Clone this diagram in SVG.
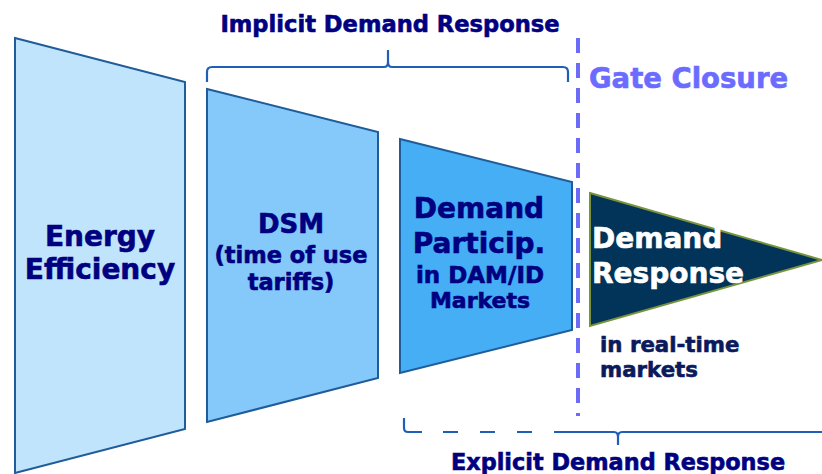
<svg xmlns="http://www.w3.org/2000/svg" width="822" height="474" viewBox="0 0 822 474">
<style>
.t{font-family:"DejaVu Sans","Noto Sans",sans-serif;font-weight:bold;fill:#000080;stroke:#000080;stroke-width:0.6;text-anchor:middle}
.w{font-family:"DejaVu Sans","Noto Sans",sans-serif;font-weight:bold;stroke-width:0.6}
.br{fill:none;stroke:#1F5FB5;stroke-width:2.2}
.trap{stroke:#1F5C99;stroke-width:2}
</style>
<rect width="822" height="474" fill="#fff"/>
<g id="energy-efficiency">
<polygon class="trap" points="15,38 185,82 185,429 15,473" fill="#C0E4FC"/>
<text class="t" x="100" y="246" font-size="28">Energy</text>
<text class="t" x="100" y="279" font-size="28">Efficiency</text>
</g>
<g id="dsm">
<polygon class="trap" points="207,89 378,132 378,378 207,422" fill="#85C8FA"/>
<text class="t" x="291" y="233" font-size="26">DSM</text>
<text class="t" x="291" y="263" font-size="22.5">(time of use</text>
<text class="t" x="291" y="290" font-size="22.5">tariffs)</text>
</g>
<g id="demand-particip">
<polygon class="trap" points="400,139 572,182 572,330 400,373" fill="#45AEF5"/>
<text class="t" x="479" y="218" font-size="28">Demand</text>
<text class="t" x="479" y="253" font-size="28">Particip.</text>
<text class="t" x="480" y="283" font-size="23">in DAM/ID</text>
<text class="t" x="480" y="308" font-size="22">Markets</text>
</g>
<g id="demand-response">
<polygon points="590,193 822,260 590,326" fill="#023459" stroke="#77933C" stroke-width="2"/>
<text class="w" x="592" y="248" font-size="28" fill="#fff" stroke="#fff">Demand</text>
<text class="w" x="592" y="283" font-size="28" fill="#fff" stroke="#fff">Response</text>
<text class="w" x="600" y="352" font-size="21.3" fill="#0A1A5C" stroke="#0A1A5C">in real-time</text>
<text class="w" x="600" y="377" font-size="21.3" fill="#0A1A5C" stroke="#0A1A5C">markets</text>
</g>
<g id="gate-closure">
<line x1="578" y1="38" x2="578" y2="416" stroke="#6B6BF8" stroke-width="4" stroke-dasharray="15,10"/>
<text class="w" x="589" y="88" font-size="27.5" fill="#6B6BFF" stroke="#6B6BFF">Gate Closure</text>
</g>
<g id="connectors">
<path class="br" d="M207,82 V72 Q207,67 212,67 H384 Q388,67 388,62 V50 V62 Q388,67 392,67 H563 Q568,67 568,72 V82"/>
<path class="br" d="M404,418 V428 Q404,432 408,432 H422"/>
<path class="br" d="M443,432 H562" stroke-dasharray="15,22"/>
<path class="br" d="M562,432 H614 Q618,432 618,437 V445 V437 Q618,432 622,432 H822"/>
</g>
<text class="t" x="390" y="32" font-size="22.6">Implicit Demand Response</text>
<text class="t" x="618" y="470" font-size="22.4">Explicit Demand Response</text>
</svg>
